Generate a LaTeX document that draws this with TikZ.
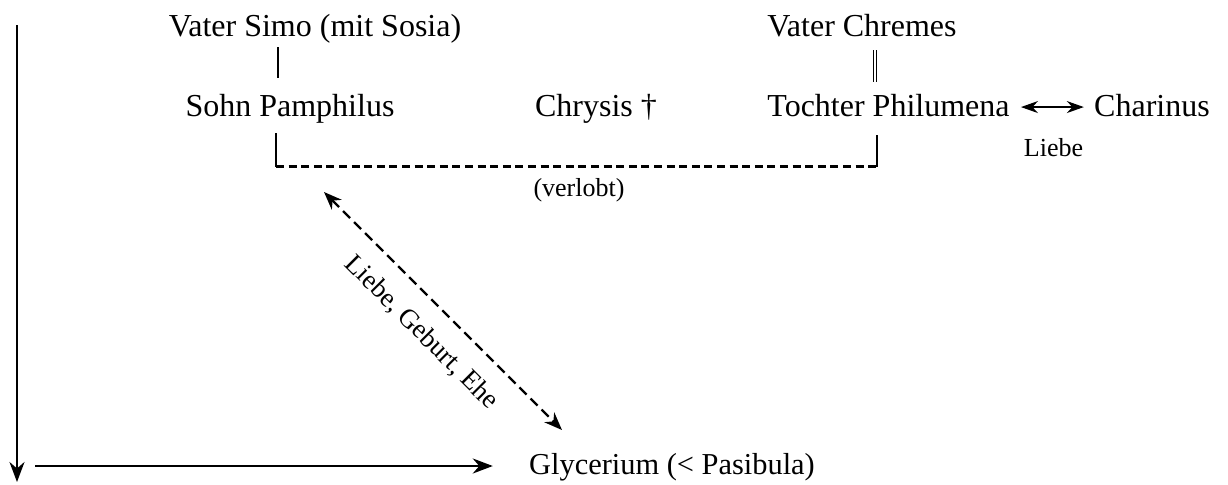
\documentclass[tikz,border=0pt]{standalone}
\usepackage{fontspec}
\setmainfont{Liberation Serif}
\usetikzlibrary{arrows.meta}
\begin{document}
\begin{tikzpicture}[x=0.5pt,y=-0.5pt,
  lbl/.style={font=\fontsize{16}{19}\selectfont, inner sep=0pt, anchor=base},
  sml/.style={font=\fontsize{13}{15}\selectfont, inner sep=0pt, anchor=base},
  axis/.style={line width=1.2pt, -{Stealth[length=10pt,width=7.5pt]}},
  rel/.style={line width=0.6pt},
  dbl/.style={line width=0.45pt, double, double distance=1.2pt},
  dashline/.style={line width=1.1pt, dash pattern=on 4pt off 2.3pt},
  diag/.style={line width=1.1pt, dash pattern=on 5pt off 2.8pt,
    {Stealth[length=9pt,width=7pt]}-{Stealth[length=9pt,width=7pt]}},
  love/.style={line width=0.7pt,
    {Stealth[length=8.5pt,width=6pt]}-{Stealth[length=8.5pt,width=6pt]}},
  diaglbl/.style={font=\fontsize{13.5}{15}\selectfont, inner sep=0pt}]
\useasboundingbox (0,0) rectangle (1228,484);

% nodes
\node[lbl] (simo) at (315,36) {Vater Simo (mit Sosia)};
\node[lbl] (pamph) at (290,116.5) {Sohn Pamphilus};
\node[lbl] (chrysis) at (596,116) {Chrysis †};
\node[lbl] (chremes) at (862,36) {Vater Chremes};
\node[lbl] (philu) at (888.5,116) {Tochter Philumena};
\node[lbl] (charinus) at (1152,116) {Charinus};
\node[sml] (liebe) at (1053.5,156) {Liebe};
\node[sml] (verlobt) at (579,196) {(verlobt)};
\node[lbl, font=\fontsize{15.2}{18}\selectfont] (glyc) at (672,474) {Glycerium (< Pasibula)};

% coordinates
\coordinate (s1) at (278,47);
\coordinate (s2) at (278,78);
\coordinate (c1) at (875,50);
\coordinate (c2) at (875,82);
\coordinate (bl1) at (276,133);
\coordinate (bl2) at (276,166.5);
\coordinate (br1) at (877,135);
\coordinate (br2) at (877,166.5);
\coordinate (dA) at (324,192);
\coordinate (dB) at (562,430);
\coordinate (vt) at (17,25);
\coordinate (vb) at (17,482);
\coordinate (hl) at (35,466);

% connectors
\draw[rel] (s1) -- (s2);
\draw[dbl] (c1) -- (c2);
\draw[rel] (bl1) -- (bl2);
\draw[rel] (br1) -- (br2);
\draw[dashline] (bl2) -- (br2);
\draw[love] ([xshift=5.5pt,yshift=-1pt]philu.east) -- ([xshift=-5pt,yshift=-1pt]charinus.west);
\draw[diag] (dA) -- node[diaglbl, sloped, below=9pt] {Liebe, Geburt, Ehe} (dB);
\draw[axis] (vt) -- (vb);
\draw[axis, shorten >=18pt] (hl) -- (hl -| glyc.west);
\end{tikzpicture}
\end{document}
